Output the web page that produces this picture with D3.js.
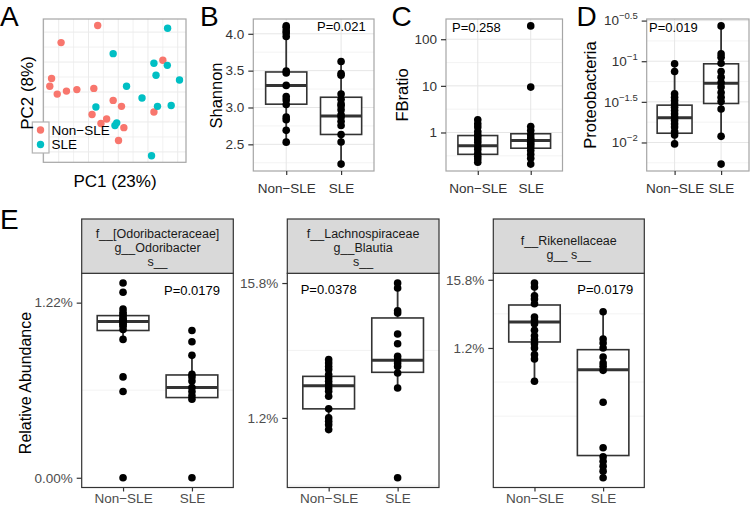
<!DOCTYPE html>
<html><head><meta charset="utf-8">
<script src="https://cdn.jsdelivr.net/npm/d3@7"></script>
<style>body{margin:0;background:#fff;} svg{display:block;}</style>
</head><body>
<svg id="chart" width="750" height="507"></svg>
<script>
// ---------- DATA ----------
const groups = ["Non\u2212SLE", "SLE"];

// Panel A: PCA
const pcaNonSLE_PC1 = [-0.069,-0.192,0.150,-0.224,-0.230,-0.205,-0.174,-0.139,-0.082,-0.017,0.011,-0.088,-0.039,-0.058,0.019,0.001,0.120];
const pcaNonSLE_PC2 = [0.222,0.165,0.106,0.045,0.019,-0.007,0.003,0.008,0.012,-0.028,-0.048,-0.075,-0.090,-0.105,-0.119,-0.162,-0.067];
const pcaSLE_PC1 = [0.166,-0.017,0.120,0.165,0.127,0.206,0.028,0.080,-0.075,0.132,0.178,-0.005,-0.011,0.112];
const pcaSLE_PC2 = [0.213,0.128,0.096,0.089,0.056,0.040,0.019,-0.020,-0.050,-0.048,-0.045,-0.103,-0.112,-0.213];
const pcaAxisTitles = ["PC1 (23%)", "PC2 (8%)"];

// Panel B: Shannon
const shannonNonSLE = [4.107,4.084,4.04,4.01,3.964,3.495,3.468,3.30,3.147,3.10,3.04,2.87,2.835,2.69,2.53];
const shannonSLE = [3.625,3.46,3.4375,3.183,3.112,3.049,3.022,2.969,2.902,2.871,2.812,2.755,2.634,2.531,2.232];
const shannonBoxNonSLE = [2.53,3.045,3.30,3.482,4.107];   // whisker low, Q1, median, Q3, whisker high
const shannonBoxSLE = [2.232,2.634,2.884,3.139,3.625];
const shannonTicks = [2.5,3.0,3.5,4.0];
const shannonTickLabels = ["2.5","3.0","3.5","4.0"];

// Panel C: FB ratio
const fbNonSLE = [1.87,1.53,1.31,1.05,0.89,0.80,0.70,0.61,0.50,0.43,0.36,0.31,0.27,0.23];
const fbSLE = [193,9.4,1.34,1.10,0.89,0.76,0.70,0.61,0.55,0.49,0.41,0.34,0.28,0.21];
const fbBoxNonSLE = [0.23,0.34,0.52,0.86,1.87];
const fbBoxSLE = [0.21,0.46,0.67,0.94,1.34];
const fbTicks = [1,10,100];
const fbTickLabels = ["1","10","100"];

// Panel D: Proteobacteria
const proteoNonSLE = [0.0929,0.0746,0.0397,0.0361,0.0328,0.0299,0.0272,0.0247,0.0225,0.0205,0.0187,0.0170,0.0155,0.0136,0.0124,0.0096];
const proteoSLE = [0.272,0.123,0.112,0.0946,0.0746,0.0637,0.0547,0.0480,0.0412,0.0361,0.0319,0.0258,0.0119,0.00542];
const proteoBoxNonSLE = [0.0096,0.0130,0.0201,0.0288,0.0929];
const proteoBoxSLE = [0.0119,0.0302,0.0537,0.0929,0.272];
const proteoTicks = [0.01,0.0316228,0.1,0.316228];
const proteoTickExponents = ["\u22122","\u22121.5","\u22121","\u22120.5"];

// Panel E (transformed relative abundance, one free scale per facet)
const odoNonSLE = [1.112,1.059,0.964,0.945,0.932,0.919,0.907,0.9,0.892,0.884,0.875,0.865,0.847,0.79,0.576,0.493,0.0];
const odoSLE = [0.841,0.777,0.699,0.591,0.576,0.553,0.515,0.493,0.468,0.449,0.0];
const odoBoxNonSLE = [0.79,0.841,0.892,0.926,0.964];
const odoBoxSLE = [0.449,0.458,0.515,0.587,0.699];
const odoTicks = [0,1];
const odoTickLabels = ["0.00%","1.22%"];
const odoMinor = [0.5];
const odoStrip = ["f__[Odoribacteraceae]","g__Odoribacter","s__"];

const blautiaNonSLE = [0.432,0.407,0.382,0.358,0.321,0.296,0.271,0.247,0.222,0.197,0.16,0.067,0.0,-0.025,-0.05,-0.087];
const blautiaSLE = [1.0,0.963,0.795,0.778,0.622,0.55,0.456,0.432,0.407,0.382,0.333,0.222,-0.444];
const blautiaBoxNonSLE = [-0.087,0.067,0.239,0.308,0.432];
const blautiaBoxSLE = [0.222,0.338,0.427,0.741,1.0];
const blautiaTicks = [0,1];
const blautiaTickLabels = ["1.2%","15.8%"];
const blautiaMinor = [0.5,-0.5];
const blautiaStrip = ["f__Lachnospiraceae","g__Blautia","s__"];

const rikenNonSLE = [0.952,0.893,0.766,0.717,0.649,0.454,0.404,0.356,0.258,0.18,0.122,0.063,0.0,-0.098,-0.161,-0.489];
const rikenSLE = [0.531,0.132,0.073,0.0,-0.132,-0.22,-0.269,-0.328,-0.796,-1.464,-1.596,-1.66,-1.733,-1.806,-1.903];
const rikenBoxNonSLE = [-0.489,0.088,0.38,0.63,0.952];
const rikenBoxSLE = [-1.903,-1.577,-0.318,-0.025,0.531];
const rikenTicks = [0,1];
const rikenTickLabels = ["1.2%","15.8%"];
const rikenMinor = [0.5,-0.5,-1.0];
const rikenStrip = ["f__Rikenellaceae","g__ s__"];

const pValues = ["P=0.021","P=0.258","P=0.019","P=0.0179","P=0.0378","P=0.0179"];

// ---------- DRAWING ----------
const FONT = "'Liberation Sans', Arial, Helvetica, sans-serif";
const svg = d3.select("#chart").attr("font-family", FONT);
svg.append("rect").attr("width",750).attr("height",507).attr("fill","#fff");

function letter(t,x,y){ svg.append("text").attr("x",x).attr("y",y).attr("font-size",28).attr("fill","#000").text(t); }
function vTitle(t,x,y,fs){ svg.append("text").attr("transform",`translate(${x},${y}) rotate(-90)`).attr("text-anchor","middle").attr("font-size",fs).attr("fill","#000").text(t); }

// ----- Panel A -----
(function(){
  const x0=43.3,x1=186,y0=19,y1=162.3;
  const xs = pcaNonSLE_PC1.concat(pcaSLE_PC1), ys = pcaNonSLE_PC2.concat(pcaSLE_PC2);
  const ex = d3.extent(xs), ey = d3.extent(ys);
  const px=(ex[1]-ex[0])*0.05, py=(ey[1]-ey[0])*0.05;
  const x = d3.scaleLinear().domain([ex[0]-px,ex[1]+px]).range([x0,x1]);
  const y = d3.scaleLinear().domain([ey[0]-py,ey[1]+py]).range([y1,y0]);
  const g = svg.append("g");
  g.append("rect").attr("x",x0).attr("y",y0).attr("width",x1-x0).attr("height",y1-y0).attr("fill","#fff");
  const gx = d3.range(Math.ceil(x.domain()[0]/0.05), Math.floor(x.domain()[1]/0.05)+1).map(k=>k*0.05);
  const gy = d3.range(Math.ceil(y.domain()[0]/0.05), Math.floor(y.domain()[1]/0.05)+1).map(k=>k*0.05);
  g.selectAll(null).data(gx).join("line").attr("x1",d=>x(d)).attr("x2",d=>x(d)).attr("y1",y0).attr("y2",y1)
    .attr("stroke","#ebebeb").attr("stroke-width",(d,i)=>Math.abs(Math.round(d*20))%2===0?1:0.7);
  g.selectAll(null).data(gy).join("line").attr("y1",d=>y(d)).attr("y2",d=>y(d)).attr("x1",x0).attr("x2",x1)
    .attr("stroke","#ebebeb").attr("stroke-width",(d,i)=>Math.abs(Math.round(d*20))%2===0?1:0.7);
  const colors = ["#F8766D","#00BFC4"];
  const sets = [[pcaNonSLE_PC1,pcaNonSLE_PC2],[pcaSLE_PC1,pcaSLE_PC2]];
  sets.forEach((s,k)=>{
    g.selectAll(null).data(s[0]).join("circle").attr("cx",d=>x(d)).attr("cy",(d,i)=>y(s[1][i])).attr("r",3.7).attr("fill",colors[k]);
  });
  g.append("rect").attr("x",x0).attr("y",y0).attr("width",x1-x0).attr("height",y1-y0).attr("fill","none").attr("stroke","#a6a6a6").attr("stroke-width",1.2);
  // legend
  const lg = svg.append("g");
  lg.append("rect").attr("x",32.3).attr("y",122).attr("width",16.7).attr("height",31).attr("fill","#fff").attr("stroke","#b3b3b3").attr("stroke-width",1.2);
  groups.forEach((gname,k)=>{
    lg.append("circle").attr("cx",40.5).attr("cy",130+k*14.5).attr("r",3.7).attr("fill",colors[k]);
    lg.append("text").attr("x",51.5).attr("y",130+k*14.5).attr("dy","0.36em").attr("font-size",13.5).attr("fill","#000").text(gname);
  });
  svg.append("text").attr("x",115).attr("y",187).attr("text-anchor","middle").attr("font-size",17).text(pcaAxisTitles[0]);
  vTitle(pcaAxisTitles[1],33,93,17);
})();

function boxPanel(o){
  const g = svg.append("g");
  const x = d3.scalePoint().domain(groups).range([o.x0,o.x1]).padding(0.6);
  const bw = x.step()*0.75;
  const tf = o.log ? (v=>Math.log10(v)) : (v=>v);
  const inv = o.log ? (v=>Math.pow(10,v)) : (v=>v);
  const ext = d3.extent(o.series.flat().map(tf));
  const pad = (ext[1]-ext[0])*0.05;
  const y = (o.log ? d3.scaleLog() : d3.scaleLinear()).domain([inv(ext[0]-pad), inv(ext[1]+pad)]).range([o.y1,o.y0]);
  g.append("rect").attr("x",o.x0).attr("y",o.y0).attr("width",o.x1-o.x0).attr("height",o.y1-o.y0).attr("fill","#fff");
  // minor gridlines
  let minor = o.minor;
  if (!minor){
    const t = o.ticks.map(tf); const st = t[1]-t[0];
    minor = d3.range(t.length+1).map(i=>t[0]-st/2+i*st).filter(v=>v>ext[0]-pad && v<ext[1]+pad).map(inv);
  }
  g.selectAll(null).data(minor).join("line").attr("x1",o.x0).attr("x2",o.x1).attr("y1",d=>y(d)).attr("y2",d=>y(d))
    .attr("stroke","#f0f0f0").attr("stroke-width",0.8);
  if (o.majorGrid){
    g.selectAll(null).data(o.ticks).join("line").attr("x1",o.x0).attr("x2",o.x1).attr("y1",d=>y(d)).attr("y2",d=>y(d))
      .attr("stroke","#e6e6e6").attr("stroke-width",1);
    g.selectAll(null).data(groups).join("line").attr("x1",d=>x(d)).attr("x2",d=>x(d)).attr("y1",o.y0).attr("y2",o.y1)
      .attr("stroke","#e6e6e6").attr("stroke-width",1);
  }
  // boxes
  o.boxes.forEach((b,i)=>{
    const cx = x(groups[i]);
    g.append("line").attr("x1",cx).attr("x2",cx).attr("y1",y(b[0])).attr("y2",y(b[1])).attr("stroke","#333").attr("stroke-width",1.8);
    g.append("line").attr("x1",cx).attr("x2",cx).attr("y1",y(b[3])).attr("y2",y(b[4])).attr("stroke","#333").attr("stroke-width",1.8);
    g.append("rect").attr("x",cx-bw/2).attr("y",y(b[3])).attr("width",bw).attr("height",y(b[1])-y(b[3]))
      .attr("fill","#fff").attr("stroke","#333").attr("stroke-width",1.6);
    g.append("line").attr("x1",cx-bw/2).attr("x2",cx+bw/2).attr("y1",y(b[2])).attr("y2",y(b[2])).attr("stroke","#333").attr("stroke-width",3);
  });
  // points
  o.series.forEach((s,i)=>{
    g.selectAll(null).data(s).join("circle").attr("cx",x(groups[i])).attr("cy",d=>y(d)).attr("r",3.8).attr("fill","#000");
  });
  g.append("rect").attr("x",o.x0).attr("y",o.y0).attr("width",o.x1-o.x0).attr("height",o.y1-o.y0)
    .attr("fill","none").attr("stroke",o.border).attr("stroke-width",1.2);
  // axes
  const ya = d3.axisLeft(y).tickValues(o.ticks).tickFormat((d,i)=>o.tickLabels ? o.tickLabels[i] : "").tickSize(5).tickPadding(4);
  const ga = g.append("g").attr("transform",`translate(${o.x0},0)`).call(ya).attr("font-family",FONT).attr("font-size",13.5);
  ga.select(".domain").remove();
  ga.selectAll("line").attr("stroke","#333").attr("stroke-width",1.2);
  ga.selectAll("text").attr("fill",o.tickColor);
  if (o.exponents){
    ga.selectAll("text").each(function(d,i){
      const t = d3.select(this); t.text(null);
      t.append("tspan").text("10");
      t.append("tspan").attr("dy",-6).attr("font-size",9.5).text(o.exponents[i]);
    });
  }
  const xa = d3.axisBottom(x).tickSize(4).tickPadding(o.xPad);
  const gxa = g.append("g").attr("transform",`translate(0,${o.y1})`).call(xa).attr("font-family",FONT).attr("font-size",13.5);
  gxa.select(".domain").remove();
  gxa.selectAll("line").attr("stroke","#333").attr("stroke-width",1.2);
  gxa.selectAll("text").attr("fill",o.tickColor);
  // p-value
  g.append("text").attr("x",o.px).attr("y",o.py).attr("font-size",13).attr("fill","#000").text(o.p);
  // strip
  if (o.strip){
    g.append("rect").attr("x",o.x0).attr("y",o.stripY0).attr("width",o.x1-o.x0).attr("height",o.y0-o.stripY0)
      .attr("fill","#d9d9d9").attr("stroke","#333").attr("stroke-width",1.2);
    o.strip.forEach((s,i)=>{
      g.append("text").attr("x",(o.x0+o.x1)/2).attr("y",o.stripBase + i*14.2).attr("text-anchor","middle")
        .attr("font-size",12.5).attr("fill","#1a1a1a").text(s);
    });
  }
}

// Panel B
boxPanel({x0:253.3,x1:374,y0:19,y1:171,series:[shannonNonSLE,shannonSLE],boxes:[shannonBoxNonSLE,shannonBoxSLE],
  ticks:shannonTicks,tickLabels:shannonTickLabels,majorGrid:true,border:"#a6a6a6",tickColor:"#333",xPad:8,
  p:pValues[0],px:317,py:31});
vTitle("Shannon",221.5,95.5,16.5);

// Panel C
boxPanel({x0:446,x1:562.5,y0:19,y1:171,log:true,series:[fbNonSLE,fbSLE],boxes:[fbBoxNonSLE,fbBoxSLE],
  ticks:fbTicks,tickLabels:fbTickLabels,majorGrid:true,border:"#a6a6a6",tickColor:"#333",xPad:8,
  p:pValues[1],px:452,py:31.5});
vTitle("FBratio",407.5,95,16.5);

// Panel D
boxPanel({x0:646.7,x1:749,y0:19,y1:171,log:true,series:[proteoNonSLE,proteoSLE],boxes:[proteoBoxNonSLE,proteoBoxSLE],
  ticks:proteoTicks,tickLabels:proteoTicks.map(()=>""),exponents:proteoTickExponents,majorGrid:true,border:"#a6a6a6",tickColor:"#333",xPad:8,
  p:pValues[2],px:649,py:31.5});
vTitle("Proteobacteria",596,95,16.5);

// Panel E
boxPanel({x0:81.7,x1:233.3,y0:273.3,y1:487.5,series:[odoNonSLE,odoSLE],boxes:[odoBoxNonSLE,odoBoxSLE],
  ticks:odoTicks,tickLabels:odoTickLabels,minor:odoMinor,majorGrid:false,border:"#333",tickColor:"#4d4d4d",xPad:2,
  p:pValues[3],px:164,py:295,strip:odoStrip,stripY0:219,stripBase:238});
boxPanel({x0:287.3,x1:439,y0:273.3,y1:487.5,series:[blautiaNonSLE,blautiaSLE],boxes:[blautiaBoxNonSLE,blautiaBoxSLE],
  ticks:blautiaTicks,tickLabels:blautiaTickLabels,minor:blautiaMinor,majorGrid:false,border:"#333",tickColor:"#4d4d4d",xPad:2,
  p:pValues[4],px:300.7,py:294,strip:blautiaStrip,stripY0:219,stripBase:238});
boxPanel({x0:493.3,x1:644.3,y0:273.3,y1:487.5,series:[rikenNonSLE,rikenSLE],boxes:[rikenBoxNonSLE,rikenBoxSLE],
  ticks:rikenTicks,tickLabels:rikenTickLabels,minor:rikenMinor,majorGrid:false,border:"#333",tickColor:"#4d4d4d",xPad:2,
  p:pValues[5],px:577.3,py:294,strip:rikenStrip,stripY0:219,stripBase:245});
vTitle("Relative Abundance",30.5,383,16);

letter("A",0,26); letter("B",200,26); letter("C",391.5,26); letter("D",576.5,26); letter("E",0,229);
</script>
</body></html>
